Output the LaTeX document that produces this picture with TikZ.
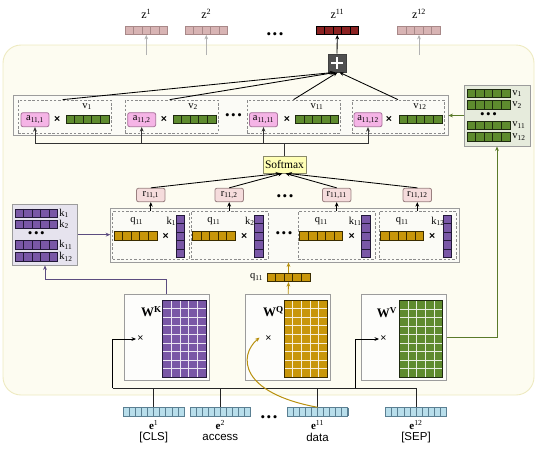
\documentclass[tikz,border=0pt]{standalone}
\usepackage{fontspec}
\setmainfont{Liberation Serif}
\newfontfamily\sansf{Liberation Sans}
\usetikzlibrary{arrows.meta,calc}
\definecolor{bgfill}{HTML}{FDFCF1}
\definecolor{bgdraw}{HTML}{EEEAC0}
\definecolor{ofill}{HTML}{FBFBF6}
\definecolor{odraw}{HTML}{9C9C9C}
\definecolor{zfill}{HTML}{D8B4B4}
\definecolor{zdraw}{HTML}{A88888}
\definecolor{zdark}{HTML}{8B2222}
\definecolor{afill}{HTML}{F5B4E6}
\definecolor{adraw}{HTML}{A8709A}
\definecolor{gfill}{HTML}{5E8B2E}
\definecolor{gdraw}{HTML}{1E2A10}
\definecolor{pfill}{HTML}{7957A6}
\definecolor{pdraw}{HTML}{221838}
\definecolor{yfill}{HTML}{C8960A}
\definecolor{ydraw}{HTML}{3A2C00}
\definecolor{efill}{HTML}{B8DEEB}
\definecolor{edraw}{HTML}{5A7F92}
\definecolor{rfill}{HTML}{F5DCDC}
\definecolor{rdraw}{HTML}{9A8080}
\definecolor{sfill}{HTML}{FFFFB5}
\definecolor{sdraw}{HTML}{8A8A6A}
\definecolor{kbfill}{HTML}{E6E3EE}
\definecolor{vbfill}{HTML}{E6EBDC}
\definecolor{kline}{HTML}{5C4C80}
\definecolor{vline}{HTML}{5A7A2A}
\definecolor{qline}{HTML}{B8900E}
\definecolor{plusc}{HTML}{505050}
\newcommand\hvec[8]{%
  \node[vecbox, fill=#7, draw=#8, minimum width=#5pt, minimum height=#6pt] (#1) at (#2,#3) {};
  \foreach \ii in {1,...,#4}{\draw[#8, line width=0.7pt] ({#2-#5/2+\ii*#5/#4},{#3-#6/2}) -- ++(0,#6);}%
}
\newcommand\vvec[8]{%
  \node[vecbox, fill=#7, draw=#8, minimum width=#5pt, minimum height=#6pt] (#1) at (#2,#3) {};
  \foreach \ii in {1,...,#4}{\draw[#8, line width=0.7pt] ({#2-#5/2},{#3-#6/2+\ii*#6/#4}) -- ++(#5,0);}%
}
\newcommand\wgrid[7]{%
  \node[inner sep=0, minimum width={#4-#2}, minimum height={#5-#3}, fill=#6] (#1) at ({(#2+#4)/2},{(#3+#5)/2}) {};
  \foreach \ii in {1,...,4}{\draw[white!85!#6, line width=0.9pt] ({#2+\ii*(#4-#2)/5},#3) -- ({#2+\ii*(#4-#2)/5},#5);}
  \foreach \ii in {1,...,8}{\draw[white!85!#6, line width=0.9pt] (#2,{#3+\ii*(#5-#3)/9}) -- (#4,{#3+\ii*(#5-#3)/9});}
  \draw[#7, line width=1pt] (#2,#3) rectangle (#4,#5);
}
\newcommand\tdots{{\fontsize{13}{13}\selectfont •\kern1.6pt•\kern1.6pt•}}
\begin{document}
\begin{tikzpicture}[x=1pt,y=-1pt, line width=0.85pt, >={Stealth[length=4.5pt,width=3.8pt]},
  vecbox/.style={inner sep=0, line width=0.8pt},
  lbl/.style={inner sep=0, font=\fontsize{10.5}{10.5}\selectfont},
  obox/.style={draw=odraw, fill=ofill, line width=0.9pt, inner sep=0},
  dbox/.style={draw=odraw!90!black, dash pattern=on 2.5pt off 1.8pt, line width=0.75pt, inner sep=0},
  abox/.style={draw=adraw, fill=afill, rounded corners=2pt, minimum width=28pt, minimum height=14pt, inner sep=0, line width=0.8pt, font=\fontsize{10.5}{10.5}\selectfont},
  rbox/.style={draw=rdraw, fill=rfill, rounded corners=2pt, minimum width=28.5pt, minimum height=13.5pt, inner sep=0, line width=0.8pt, font=\fontsize{10.5}{10.5}\selectfont},
  timesx/.style={inner sep=0.5pt, font=\sansf\bfseries\fontsize{10.5}{10.5}\selectfont},
  thinx/.style={inner sep=1pt, font=\sansf\fontsize{10.5}{10.5}\selectfont},
  wbox/.style={draw=odraw, fill=white!60!ofill, line width=1pt, inner sep=0, minimum width=85pt, minimum height=85.7pt},
  wlbl/.style={inner sep=0, font=\bfseries\fontsize{13}{13}\selectfont},
  dotsn/.style={inner sep=0}]
\useasboundingbox (0,0) rectangle (536,451);
% background
\draw[draw=bgdraw, fill=bgfill, rounded corners=18pt, line width=0.9pt] (3,45) rectangle (534,395);

% ---- top outputs z
\hvec{z1}{146.3}{30.5}{5}{42.7}{8}{zfill}{zdraw}
\hvec{z2}{206.3}{30.5}{5}{42.7}{8}{zfill}{zdraw}
\hvec{z11}{337.3}{30.5}{5}{42.7}{8}{zdark}{black}
\hvec{z12}{419}{30.5}{5}{42.7}{8}{zfill}{zdraw}
\node[lbl, font=\fontsize{12}{12}\selectfont] (lz1) at (146.3,14) {z\textsuperscript{1}};
\node[lbl, font=\fontsize{12}{12}\selectfont] (lz2) at (206.3,14) {z\textsuperscript{2}};
\node[lbl, font=\fontsize{12}{12}\selectfont] (lz11) at (337.3,14) {z\textsuperscript{11}};
\node[lbl, font=\fontsize{12}{12}\selectfont] (lz12) at (419,14) {z\textsuperscript{12}};
\node[dotsn] (zd) at (275,36) {\tdots};
\coordinate (g1) at (146.3,55);
\coordinate (g2) at (206.3,55);
\coordinate (g12) at (419,55);
\draw[->, draw=black!30, line width=0.7pt] (g1) -- (z1.south);
\draw[->, draw=black!30, line width=0.7pt] (g2) -- (z2.south);
\draw[->, draw=black!30, line width=0.7pt] (g12) -- (z12.south);
% plus
\node[fill=plusc, draw=black!75, minimum size=18pt, inner sep=0, line width=0.8pt] (plus) at (337,63) {};
\draw[white, line width=1.8pt] ($(plus.center)+(-6,0)$) -- ($(plus.center)+(6,0)$);
\draw[white, line width=1.8pt] ($(plus.center)+(0,-6)$) -- ($(plus.center)+(0,6)$);
\draw[->] (plus.north) -- (z11.south);

% ---- top attention row
\node[obox, minimum width=434.5pt, minimum height=40.5pt] (topbox) at (230.75,115.25) {};
\node[dbox, minimum width=93pt, minimum height=33pt] (tb1) at (64.5,116.5) {};
\node[dbox, minimum width=93pt, minimum height=33pt] (tb2) at (171.5,116.5) {};
\node[dbox, minimum width=93pt, minimum height=33pt] (tb3) at (293.5,116.5) {};
\node[dbox, minimum width=92pt, minimum height=33pt] (tb4) at (398,116.5) {};
\node[abox] (a1) at (35,119.7) {a\textsubscript{11,1}};
\node[abox] (a2) at (141.7,119.7) {a\textsubscript{11,2}};
\node[abox] (a3) at (263.5,119.7) {a\textsubscript{11,11}};
\node[abox] (a4) at (368,119.7) {a\textsubscript{11,12}};
\node[timesx] (ax1) at (57.3,119.5) {×};
\node[timesx] (ax2) at (164,119.5) {×};
\node[timesx] (ax3) at (287,119.5) {×};
\node[timesx] (ax4) at (389,119.5) {×};
\hvec{v1}{87.5}{119.2}{5}{43}{8.5}{gfill}{gdraw}
\hvec{v2}{194.5}{119.2}{5}{43}{8.5}{gfill}{gdraw}
\hvec{v11}{317}{119.2}{5}{43}{8.5}{gfill}{gdraw}
\hvec{v12}{420.5}{119.2}{5}{43}{8.5}{gfill}{gdraw}
\node[lbl] (lv1) at (87,106.5) {v\textsubscript{1}};
\node[lbl] (lv2) at (193,106.5) {v\textsubscript{2}};
\node[lbl] (lv11) at (317,106.5) {v\textsubscript{11}};
\node[lbl] (lv12) at (420,106.5) {v\textsubscript{12}};
\node[dotsn] (td) at (233.5,117) {\tdots};
\draw[->] ($(tb1.north west)!0.48!(tb1.north east)$) -- ([xshift=-3pt]plus.south);
\draw[->] ($(tb2.north west)!0.48!(tb2.north east)$) -- ([xshift=-1.5pt]plus.south);
\draw[->] (tb3.north) -- ([xshift=0.5pt]plus.south);
\draw[->] (tb4.north) -- ([xshift=2.5pt]plus.south);

% ---- V box
\node[obox, fill=vbfill, minimum width=66pt, minimum height=61pt] (Vbox) at (497,115.5) {};
\hvec{vv1}{488.5}{93.5}{5}{43}{8.4}{gfill}{gdraw}
\hvec{vv2}{488.5}{105}{5}{43}{8.4}{gfill}{gdraw}
\hvec{vv11}{488.5}{125.3}{5}{43}{8.4}{gfill}{gdraw}
\hvec{vv12}{488.5}{136.8}{5}{43}{8.4}{gfill}{gdraw}
\node[dotsn] (vd) at (488.5,115.5) {\tdots};
\node[lbl, anchor=west] (lvv1) at (512,93.5) {v\textsubscript{1}};
\node[lbl, anchor=west] (lvv2) at (512,105) {v\textsubscript{2}};
\node[lbl, anchor=west] (lvv11) at (512,125.3) {v\textsubscript{11}};
\node[lbl, anchor=west] (lvv12) at (512,136.8) {v\textsubscript{12}};
\draw[->, vline] (Vbox.west) -- (Vbox.west -| topbox.east);

% ---- softmax
\node[draw=sdraw, fill=sfill, minimum width=43pt, minimum height=17pt, inner sep=0, line width=0.8pt, font=\fontsize{11.5}{11.5}\selectfont] (soft) at (284.5,164.5) {Softmax};
\coordinate (hb) at (284.5,143.5);
\draw[black!80] (soft.north) -- (hb);
\draw[black!80] (a1 |- hb) -- (a4 |- hb);
\foreach \a in {a1,a2,a3,a4}{\draw[->, black!80] (\a |- hb) -- (\a.south);}

% ---- r boxes
\node[rbox] (r1) at (150.8,195) {r\textsubscript{11,1}};
\node[rbox] (r2) at (229.2,195) {r\textsubscript{11,2}};
\node[rbox] (r3) at (336.7,195) {r\textsubscript{11,11}};
\node[rbox] (r4) at (417.3,195) {r\textsubscript{11,12}};
\node[dotsn] (rd) at (285,198) {\tdots};
\draw[->] (r1.north) -- ([xshift=-4.5pt]soft.south);
\draw[->] (r2.north) -- ([xshift=-2pt]soft.south);
\draw[->] (r3.north) -- ([xshift=1pt]soft.south);
\draw[->] (r4.north) -- ([xshift=3pt]soft.south);

% ---- middle row
\node[obox, minimum width=348.6pt, minimum height=54pt] (midbox) at (285,235) {};
\node[dbox, minimum width=76.6pt, minimum height=47.6pt] (mb1) at (151,235.5) {};
\node[dbox, minimum width=77pt, minimum height=47.6pt] (mb2) at (229.5,235.5) {};
\node[dbox, minimum width=77pt, minimum height=47.6pt] (mb3) at (336.5,235.5) {};
\node[dbox, minimum width=77pt, minimum height=47.6pt] (mb4) at (417.5,235.5) {};
\hvec{q1}{135.5}{235.5}{5}{43}{9}{yfill}{ydraw}
\hvec{q2}{213.8}{235.5}{5}{43}{9}{yfill}{ydraw}
\hvec{q3}{321.3}{235.5}{5}{43}{9}{yfill}{ydraw}
\hvec{q4}{402.2}{235.5}{5}{43}{9}{yfill}{ydraw}
\node[lbl] (lq1) at (136.7,221.5) {q\textsubscript{11}};
\node[lbl] (lq2) at (213.8,221.5) {q\textsubscript{11}};
\node[lbl] (lq3) at (321.3,221.5) {q\textsubscript{11}};
\node[lbl] (lq4) at (402.2,221.5) {q\textsubscript{11}};
\node[timesx] (mx1) at (165.7,236) {×};
\node[timesx] (mx2) at (244.3,236) {×};
\node[timesx] (mx3) at (351.7,236) {×};
\node[timesx] (mx4) at (432.3,236) {×};
\vvec{k1}{180.2}{236.2}{5}{8.5}{42.3}{pfill}{pdraw}
\vvec{k2}{258.8}{236.2}{5}{8.5}{42.3}{pfill}{pdraw}
\vvec{k11}{365.8}{236.2}{5}{8.5}{42.3}{pfill}{pdraw}
\vvec{k12}{447.2}{236.2}{5}{8.5}{42.3}{pfill}{pdraw}
\node[lbl, anchor=east] (lk1) at (176.5,221.5) {k\textsubscript{1}};
\node[lbl, anchor=east] (lk2) at (255,221.5) {k\textsubscript{2}};
\node[lbl, anchor=east] (lk11) at (362,221.5) {k\textsubscript{11}};
\node[lbl, anchor=east] (lk12) at (445,221.5) {k\textsubscript{12}};
\node[dotsn] (md) at (284,235) {\tdots};
\draw[->] (r1 |- mb1.north) -- (r1.south);
\draw[->] (r2 |- mb2.north) -- (r2.south);
\draw[->] (r3 |- mb3.north) -- (r3.south);
\draw[->] (r4 |- mb4.north) -- (r4.south);

% ---- K box
\node[obox, fill=kbfill, minimum width=64.6pt, minimum height=60.7pt] (Kbox) at (45,234.65) {};
\hvec{kk1}{36.3}{213.3}{5}{42.7}{8.7}{pfill}{pdraw}
\hvec{kk2}{36.3}{224.3}{5}{42.7}{8.7}{pfill}{pdraw}
\hvec{kk11}{36.3}{245}{5}{42.7}{8.7}{pfill}{pdraw}
\hvec{kk12}{36.3}{256.7}{5}{42.7}{8.7}{pfill}{pdraw}
\node[dotsn] (kd) at (36.3,234.5) {\tdots};
\node[lbl, anchor=west] (lkk1) at (59,213.3) {k\textsubscript{1}};
\node[lbl, anchor=west] (lkk2) at (59,224.3) {k\textsubscript{2}};
\node[lbl, anchor=west] (lkk11) at (59,245) {k\textsubscript{11}};
\node[lbl, anchor=west] (lkk12) at (59,256.7) {k\textsubscript{12}};
\draw[->, kline] (Kbox.east) -- (Kbox.east -| midbox.west);

% ---- W matrices
\node[wbox] (WK) at (166.5,337.15) {};
\node[wbox] (WQ) at (288.2,337.15) {};
\node[wbox] (WV) at (403.5,337.15) {};
\wgrid{gk}{162.7}{300}{206}{377.3}{pfill}{pdraw}
\wgrid{gq}{284.3}{300}{327.3}{377.3}{yfill}{ydraw}
\wgrid{gv}{399.3}{300.7}{442.7}{377.3}{gfill}{gdraw}
\node[wlbl] (lwk) at (151.5,311.5) {W\textsuperscript{K}};
\node[wlbl] (lwq) at (273.5,311.5) {W\textsuperscript{Q}};
\node[wlbl] (lwv) at (387,312.5) {W\textsuperscript{V}};
\node[thinx] (xk) at (140.5,339) {×};
\node[thinx] (xq) at (268.5,339) {×};
\node[thinx] (xv) at (383.5,339) {×};

% ---- W outputs
\draw[->, kline] (WK.north) -- ++(0,-14.8) -| (Kbox.south);
\hvec{qv}{288.5}{277.5}{5}{43}{8.4}{yfill}{ydraw}
\node[lbl, anchor=east] (lqv) at (263.5,277.5) {q\textsubscript{11}};
\draw[->, qline] (WQ.north) -- (qv.south);
\draw[->, qline] (qv.north) -- (qv.north |- midbox.south);
\draw[->, vline] (WV.east) -| (Vbox.south);

% ---- embeddings
\hvec{e1}{153.7}{411.8}{10}{60.7}{8.3}{efill}{edraw}
\hvec{e2}{220.3}{411.8}{10}{60.7}{8.3}{efill}{edraw}
\hvec{e11}{317.5}{411.8}{10}{60.7}{8.3}{efill}{edraw}
\hvec{e12}{416}{411.8}{10}{60.7}{8.3}{efill}{edraw}
\node[dotsn] (ed) at (269,419) {\tdots};
\node[lbl, font=\bfseries\fontsize{11}{11}\selectfont] (le1) at (153.7,425) {e\textsuperscript{\mdseries 1}};
\node[lbl, font=\bfseries\fontsize{11}{11}\selectfont] (le2) at (220.3,425) {e\textsuperscript{\mdseries 2}};
\node[lbl, font=\bfseries\fontsize{11}{11}\selectfont] (le11) at (317.5,425) {e\textsuperscript{\mdseries 11}};
\node[lbl, font=\bfseries\fontsize{11}{11}\selectfont] (le12) at (416,425) {e\textsuperscript{\mdseries 12}};
\node[inner sep=0, font=\sansf\fontsize{11.5}{11.5}\selectfont] (w1) at (153.7,437.5) {[CLS]};
\node[inner sep=0, font=\sansf\fontsize{11.5}{11.5}\selectfont] (w2) at (220.3,437.5) {access};
\node[inner sep=0, font=\sansf\fontsize{11.5}{11.5}\selectfont] (w11) at (317.5,437.5) {data};
\node[inner sep=0, font=\sansf\fontsize{11.5}{11.5}\selectfont] (w12) at (416,437.5) {[SEP]};

% ---- bus
\coordinate (busL) at (112.7,388);
\coordinate (busR) at (416,388);
\coordinate (busV) at (355,388);
\draw[black!85] (busL) -- (busR);
\foreach \e in {e1,e2,e11,e12}{\draw[black!85] (\e.north) -- (\e.north |- busL);}
\draw[->] (busL) |- (xk.west);
\draw[->] (busV) |- (xv.west);
\coordinate (qtip) at (259.5,337.5);
\draw[->, qline, line width=1pt] (e11.north) .. controls (240,393) and (238,356) .. (qtip);
\end{tikzpicture}
\end{document}
